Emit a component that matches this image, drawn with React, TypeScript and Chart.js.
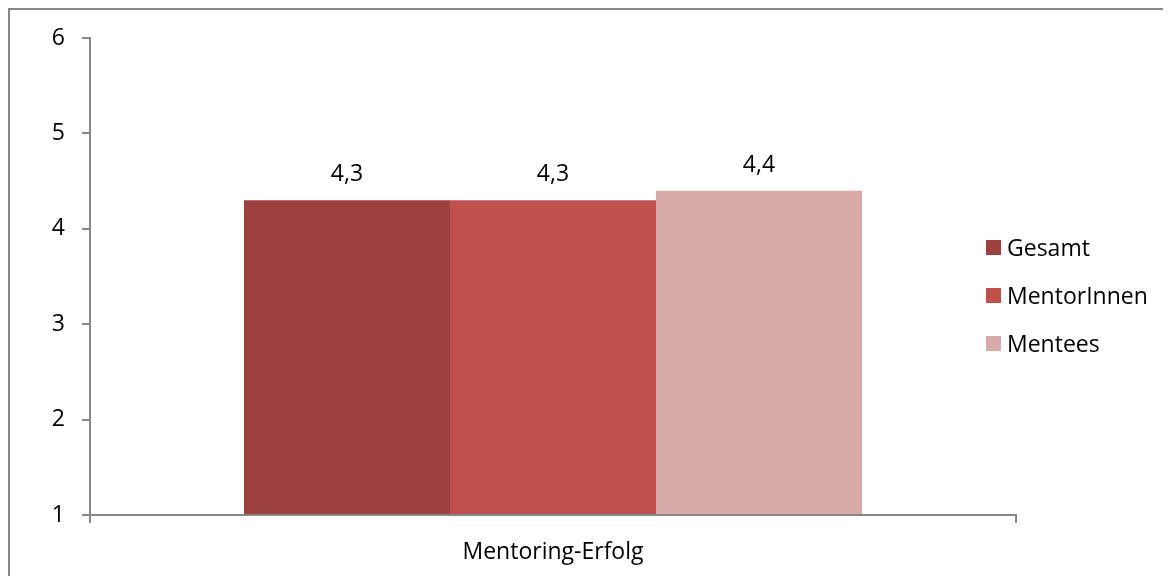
import React, { useEffect, useRef } from "react";
import { Chart, registerables } from "chart.js";

Chart.register(...registerables);

const categories = ["Mentoring-Erfolg"];
const seriesNames = ["Gesamt", "MentorInnen", "Mentees"];
const gesamtValues = [4.3];
const mentorInnenValues = [4.3];
const menteesValues = [4.4];
const seriesColors = ["#9E413E", "#C0504D", "#DAA9A9"];
const yMin = 1;
const yMax = 6;
const yStep = 1;

const FONT = "'Open Sans'";
const FONT_SIZE = 23;
const AXIS_COLOR = "#878787";

const dataLabelPlugin = {
  id: "dataLabels",
  afterDatasetsDraw(chart: any) {
    const ctx = chart.ctx;
    ctx.save();
    ctx.font = `${FONT_SIZE}px ${FONT}`;
    ctx.fillStyle = "#000";
    ctx.textAlign = "center";
    ctx.textBaseline = "alphabetic";
    chart.data.datasets.forEach((ds: any, i: number) => {
      const meta = chart.getDatasetMeta(i);
      meta.data.forEach((bar: any, j: number) => {
        const v = ds.data[j];
        ctx.fillText(String(v).replace(".", ","), bar.x, bar.y - 19);
      });
    });
    ctx.restore();
  },
};

export default function App() {
  const canvasRef = useRef<HTMLCanvasElement | null>(null);

  useEffect(() => {
    if (!canvasRef.current) return;
    const seriesValues = [gesamtValues, mentorInnenValues, menteesValues];
    const chart = new Chart(canvasRef.current, {
      type: "bar",
      data: {
        labels: categories,
        datasets: seriesNames.map((name, i) => ({
          label: name,
          data: seriesValues[i],
          backgroundColor: seriesColors[i],
          borderWidth: 0,
          base: yMin,
          categoryPercentage: 618 / 926,
          barPercentage: 1,
        })),
      },
      options: {
        responsive: false,
        animation: false,
        maintainAspectRatio: false,
        layout: { padding: { left: 10, top: 28, right: 155, bottom: 0 } },
        plugins: {
          legend: { display: false },
          tooltip: { enabled: false },
        },
        scales: {
          x: {
            grid: {
              drawOnChartArea: false,
              drawTicks: true,
              tickLength: 8,
              color: AXIS_COLOR,
              lineWidth: 2,
            },
            border: { display: true, color: AXIS_COLOR, width: 2 },
            ticks: {
              color: "#000",
              font: { family: FONT, size: FONT_SIZE },
              padding: 16,
            },
            afterFit: (scale: any) => {
              scale.height = 61;
            },
          },
          y: {
            min: yMin,
            max: yMax,
            grid: {
              drawOnChartArea: false,
              drawTicks: true,
              tickLength: 8,
              color: AXIS_COLOR,
              lineWidth: 2,
            },
            border: { display: true, color: AXIS_COLOR, width: 2 },
            ticks: {
              stepSize: yStep,
              color: "#000",
              font: { family: FONT, size: FONT_SIZE },
              padding: 17,
            },
            afterFit: (scale: any) => {
              scale.width = 70;
              scale.paddingTop = 10;
              scale.paddingBottom = 10;
            },
          },
        },
      },
      plugins: [dataLabelPlugin],
    });
    return () => chart.destroy();
  }, []);

  const legendTops = [247, 295, 343];

  return (
    <div
      style={{
        position: "relative",
        width: 1163,
        height: 568,
        borderTop: `2px solid ${AXIS_COLOR}`,
        borderLeft: `2px solid ${AXIS_COLOR}`,
        boxSizing: "border-box",
        overflow: "hidden",
      }}
    >
      <canvas
        ref={canvasRef}
        width={1161}
        height={566}
        style={{ position: "absolute", left: 0, top: 0, width: 1161, height: 566 }}
      />
      {seriesNames.map((name, i) => (
        <div
          key={name}
          style={{
            position: "absolute",
            left: 976,
            top: legendTops[i] - 10 - 13,
            height: 26,
            display: "flex",
            alignItems: "center",
            fontFamily: FONT,
            fontSize: FONT_SIZE,
            lineHeight: "26px",
            color: "#000",
            whiteSpace: "nowrap",
          }}
        >
          <span
            style={{
              display: "inline-block",
              width: 15,
              height: 15,
              background: seriesColors[i],
              marginRight: 6,
            }}
          />
          <span>{name}</span>
        </div>
      ))}
    </div>
  );
}
